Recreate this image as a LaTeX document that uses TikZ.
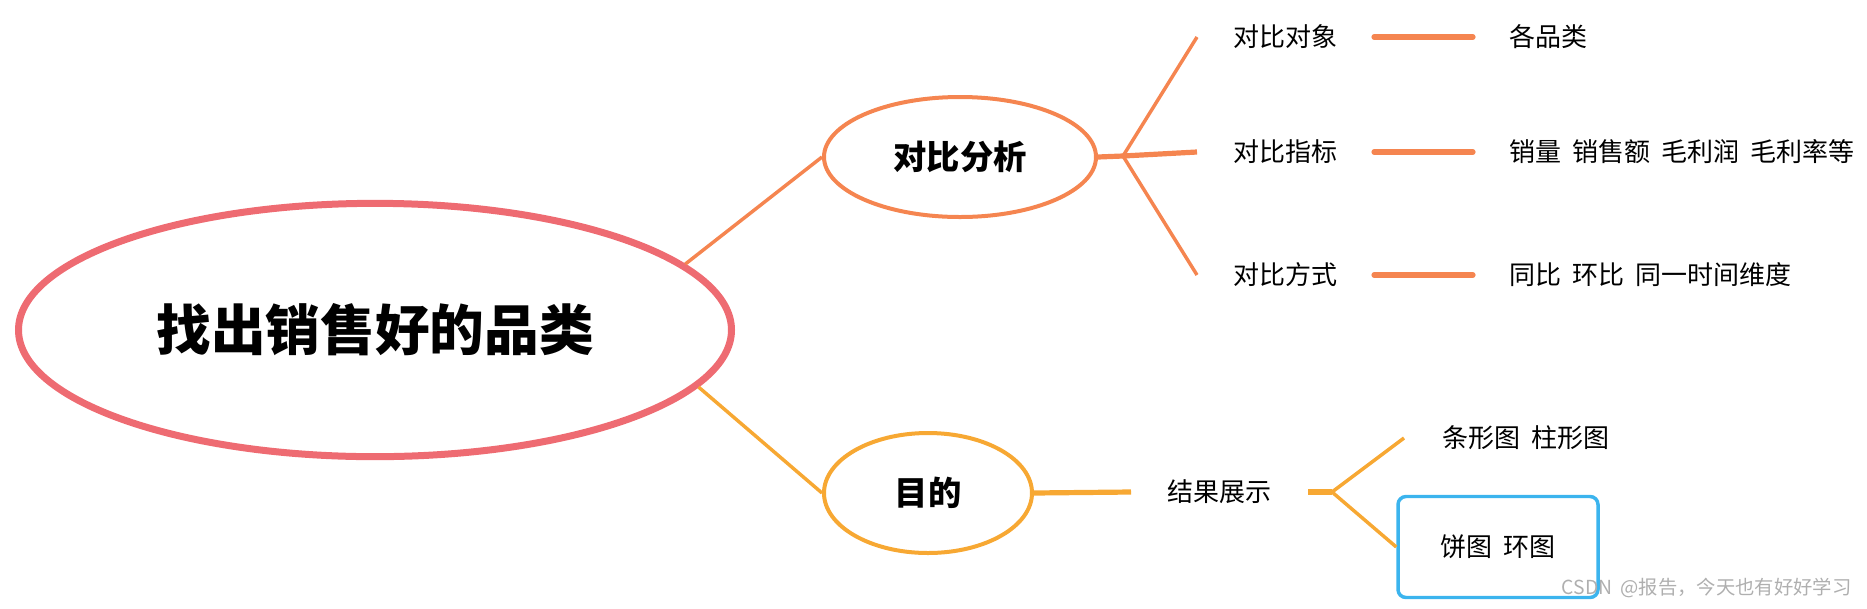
\documentclass[tikz,border=0pt]{standalone}
\usepackage{fontspec}
\newfontfamily\cjk{Noto Sans CJK SC}
\newfontfamily\cjkwide{Noto Sans CJK SC}[WordSpace=1.9]
\usetikzlibrary{shapes.geometric}

\tikzset{every picture/.style={line width=0.75pt}}
\tikzset{
  rootnode/.style={ellipse, draw={rgb, 255:red, 238; green, 107; blue, 114}, line width=5.25pt,
    minimum width=534.75pt, minimum height=190pt, inner sep=0pt,
    font=\cjk\bfseries\fontsize{41}{49}\selectfont},
  cmpnode/.style={ellipse, draw={rgb, 255:red, 245; green, 133; blue, 80}, line width=3pt,
    minimum width=204pt, minimum height=90pt, inner sep=0pt,
    font=\cjk\bfseries\fontsize{25}{30}\selectfont},
  goalnode/.style={cmpnode, draw={rgb, 255:red, 247; green, 168; blue, 51}, minimum width=156pt},
  leaf/.style={inner xsep=27pt, inner ysep=0pt, font=\cjkwide\fontsize{19.5}{23}\selectfont},
  piebox/.style={leaf, rectangle, rounded corners=6pt, draw={rgb, 255:red, 59; green, 180; blue, 238},
    line width=2.6pt, minimum width=150pt, minimum height=75.75pt},
  wmnode/.style={inner sep=0pt, text={rgb, 255:red, 175; green, 175; blue, 175}, font=\cjk\fontsize{14.5}{17}\selectfont},
  orangeline/.style={draw={rgb, 255:red, 245; green, 133; blue, 80}, line width=2.6pt},
  yellowline/.style={draw={rgb, 255:red, 247; green, 168; blue, 51}, line width=2.6pt},
  orangebar/.style={orangeline, line width=3.9pt, line cap=round},
  yellowbar/.style={yellowline, line width=3.9pt, line cap=round}
}

\begin{document}
\begin{tikzpicture}[x=0.75pt,y=0.75pt,yscale=-1,xscale=1]
\path[use as bounding box] (0,0) rectangle (1867,608);
% Text Node
\node[rootnode] (root) at (375,330) {找出销售好的品类};
% Text Node
\node[cmpnode] (cmp) at (960,157) {对比分析};
% Text Node
\node[goalnode] (goal) at (928,493) {目的};

% Text Node
\node[leaf, anchor=west] (obj) at (1197,37) {对比对象};
\node[leaf, anchor=west] (idx) at (1197,152) {对比指标};
\node[leaf, anchor=west] (way) at (1197,275) {对比方式};
% Text Node
\node[leaf, anchor=west] (objv) at (1473,37) {各品类};
\node[leaf, anchor=west] (idxv) at (1473,152) {销量 销售额 毛利润 毛利率等};
\node[leaf, anchor=west] (wayv) at (1473,275) {同比 环比 同一时间维度};

% Text Node
\node[leaf, anchor=west] (res) at (1131,492) {结果展示};
\node[leaf, anchor=west, inner xsep=28.5pt] (bar) at (1404,438) {条形图 柱形图};
\node[piebox] (pie) at (1498,547) {饼图 环图};

% Text Node
\node[wmnode, anchor=east] (wm) at (1852,588) {CSDN @报告，今天也有好好学习};

\coordinate (cfork) at (1123,156);
\coordinate (gfork) at (1332,492);

%Straight Lines
\draw[orangeline] (root.12.6) -- (cmp.west);
\draw[yellowline] (root.-10.8) -- (goal.west);
%Straight Lines
\draw[orangeline, line width=3.9pt] (cmp.east) -- (cfork);
\draw[orangeline] (cfork) -- (obj.west);
\draw[orangeline, line width=3.9pt] (cfork) -- (idx.west);
\draw[orangeline] (cfork) -- (way.west);
%Straight Lines
\draw[orangebar] (obj) -- (objv);
\draw[orangebar] (idx) -- (idxv);
\draw[orangebar] (way) -- (wayv);
%Straight Lines
\draw[yellowline, line width=3.9pt] (goal.east) -- (res.west);
\draw[yellowline, line width=3.9pt] (res.east) -- (gfork);
\draw[yellowline] (gfork) -- (bar.west);
\draw[yellowline] (gfork) -- (pie.west);

\end{tikzpicture}
\end{document}
